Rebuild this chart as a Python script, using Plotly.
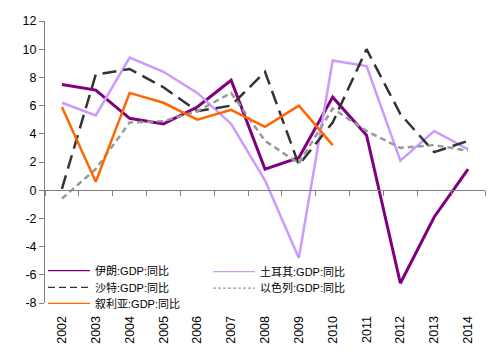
import plotly.graph_objects as go

years = [str(y) for y in range(2002, 2015)]
iran = [7.5, 7.1, 5.1, 4.7, 5.9, 7.8, 1.5, 2.3, 6.6, 3.9, -6.6, -1.9, 1.5]
turkey = [6.2, 5.3, 9.4, 8.4, 6.9, 4.7, 0.7, -4.8, 9.2, 8.8, 2.1, 4.2, 2.9]
saudi = [0.1, 8.2, 8.6, 7.3, 5.6, 6.0, 8.4, 1.8, 4.8, 10.0, 5.4, 2.7, 3.5]
syria = [5.9, 0.6, 6.9, 6.2, 5.0, 5.7, 4.5, 6.0, 3.2]
israel = [-0.6, 1.5, 4.8, 4.9, 5.6, 6.9, 3.5, 1.9, 5.8, 4.2, 3.0, 3.2, 2.8]

y_ticks = [-8, -6, -4, -2, 0, 2, 4, 6, 8, 10, 12]
y_ticktext = ["-8", "-6", "-4", "-2", "0", "2", "4", "6", "8", "10", "12"]

names = ["伊朗:GDP:同比", "土耳其:GDP:同比", "沙特:GDP:同比", "以色列:GDP:同比", "叙利亚:GDP:同比"]

series = [
    # name, values, color, width, dash, legend id
    (names[0], iran, "#800080", 3, "solid", "legend"),
    (names[1], turkey, "#CC99FF", 2.5, "solid", "legend2"),
    (names[2], saudi, "#333333", 2.5, "14px,7px", "legend3"),
    (names[3], israel, "#999999", 2.5, "6px,4px", "legend4"),
    (names[4], syria, "#FF6600", 2.5, "solid", "legend5"),
]
legend_dash = {"solid": "solid", "14px,7px": "7px,4px", "6px,4px": "3px,2px"}

fig = go.Figure()
for name, vals, color, width, dash, lg in series:
    fig.add_trace(go.Scatter(x=years[:len(vals)], y=vals, name=name, mode="lines",
                             line=dict(color=color, width=width, dash=dash),
                             showlegend=False))
for name, vals, color, width, dash, lg in series:
    fig.add_trace(go.Scatter(x=[None], y=[None], name=name, mode="lines",
                             line=dict(color=color, width=1.2, dash=legend_dash[dash]),
                             legend=lg, showlegend=True, hoverinfo="skip"))
# helper axis for the line at y=0 with tick marks
fig.add_trace(go.Scatter(x=years, y=[None]*len(years), xaxis="x2", showlegend=False,
                         hoverinfo="skip", mode="lines"))

font = "Liberation Sans, Arial, Noto Sans CJK SC, sans-serif"

def leg(x, y):
    return dict(x=x, y=y, xanchor="left", yanchor="middle", bgcolor="rgba(0,0,0,0)",
                font=dict(size=11, color="#000000"), itemwidth=42, borderwidth=0)

fig.update_layout(
    width=497, height=359,
    margin=dict(l=45, r=12, t=21, b=56),
    paper_bgcolor="white", plot_bgcolor="white",
    font=dict(family=font, size=12, color="#000000"),
    showlegend=True,
    xaxis=dict(type="category", categoryorder="array", categoryarray=years,
               range=[-0.5, 12.5], showline=False, ticks="outside", ticklen=7,
               tickcolor="rgba(0,0,0,0)", showgrid=False,
               tickangle=-90, tickfont=dict(size=12.5), zeroline=False),
    xaxis2=dict(type="category", categoryorder="array", categoryarray=years,
                range=[-0.5, 12.5], overlaying="x", anchor="free", position=0.4,
                showline=True, linecolor="#808080", linewidth=1,
                ticks="outside", ticklen=5, tickcolor="#808080", tickson="boundaries",
                showticklabels=False, showgrid=False, zeroline=False),
    yaxis=dict(range=[-8, 12], tickmode="array", tickvals=y_ticks, ticktext=y_ticktext,
               showline=True, linecolor="#808080",
               linewidth=1, ticks="outside", ticklen=5, tickcolor="#808080",
               showgrid=False, zeroline=False, tickfont=dict(size=12.5)),
    legend=leg(-0.0045, 0.1145),
    legend2=leg(0.3705, 0.111),
    legend3=leg(-0.0045, 0.0557),
    legend4=leg(0.3705, 0.053),
    legend5=leg(-0.0045, -0.001),
)
fig.write_html("out.html", config={"displayModeBar": False},
               post_script="document.body.style.margin='0';")
